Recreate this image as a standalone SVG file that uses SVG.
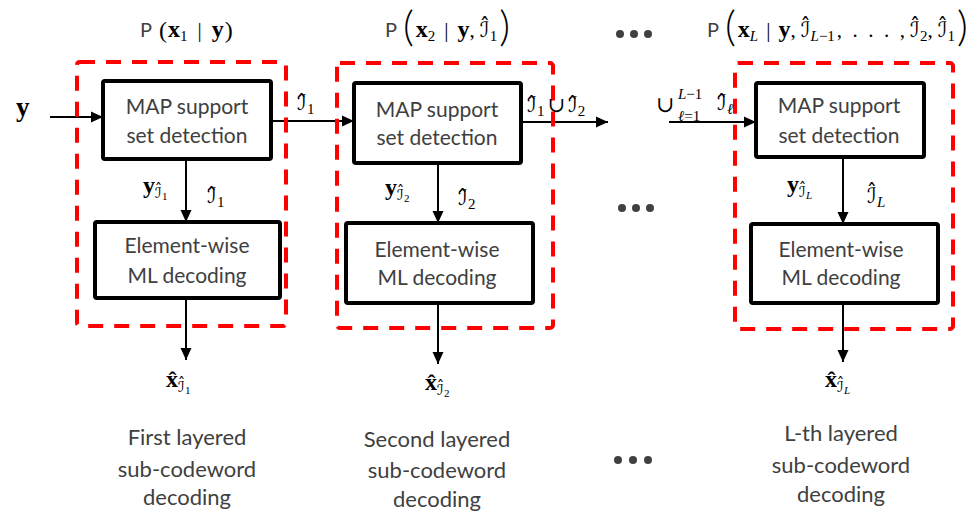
<svg xmlns="http://www.w3.org/2000/svg" width="974" height="512" viewBox="0 0 974 512">
<defs>
<marker id="ah" markerUnits="userSpaceOnUse" markerWidth="12" markerHeight="12" refX="12" refY="6" orient="auto">
<path d="M0,0.5 L12,6 L0,11.5 z" fill="#000"/>
</marker>
</defs>
<style>
.box{fill:#fff;stroke:#000;stroke-width:4}
.red{fill:none;stroke:#f00;stroke-width:4;stroke-dasharray:15 11}
.conn{stroke:#000;stroke-width:2;fill:none;marker-end:url(#ah)}
.lbl{font-family:"Lato","Open Sans",sans-serif;fill:#404040;font-size:21px;text-anchor:middle}
.big{font-size:22px}
.P{font-family:"Lato","Open Sans",sans-serif;fill:#404040;font-size:20px}
.m{font-family:"Liberation Serif","DejaVu Serif",serif;fill:#000}
.c{font-family:"DejaVu Sans",sans-serif}
.n{font-size:21px}
.s{font-size:15px}
.ss{font-size:11px}
.p{font-family:"Lato",sans-serif;font-weight:300;font-size:42px}
.q{font-size:24px}
.b{font-weight:bold}
.i{font-style:italic}
.dot{fill:#404040}
</style>
<rect width="974" height="512" fill="#fff"/>

<g id="titles">
<text class="m n" x="140" y="37"><tspan class="P">P</tspan><tspan class="q" dx="7" dy="1">(</tspan><tspan class="b q" dx="1" dy="-1">x</tspan><tspan class="s" dy="4">1</tspan><tspan dy="-4" dx="10">|</tspan><tspan class="b q" dx="10">y</tspan><tspan class="q" dx="1" dy="1">)</tspan></text>
<text class="m n" x="385" y="37"><tspan class="P">P</tspan><tspan class="p" dx="6" dy="4">(</tspan><tspan class="b q" dx="2" dy="-4">x</tspan><tspan class="s" dy="4">2</tspan><tspan dy="-4" dx="9">|</tspan><tspan class="b q" dx="9">y</tspan><tspan>,</tspan><tspan class="c" dx="5">ℐ̂</tspan><tspan class="s" dy="4">1</tspan><tspan class="p" dx="2">)</tspan></text>
<text class="m n" x="707" y="37"><tspan class="P">P</tspan><tspan class="p" dx="6" dy="4">(</tspan><tspan class="b q" dx="2" dy="-4">x</tspan><tspan class="s i" dy="4">L</tspan><tspan dy="-4" dx="8">|</tspan><tspan class="b q" dx="8">y</tspan><tspan>,</tspan><tspan class="c" dx="5">ℐ̂</tspan><tspan class="s" dy="4"><tspan class="i">L</tspan>−1</tspan><tspan dy="-4" dx="2">,&#160;&#160;.&#160;&#160;.&#160;&#160;.&#160;&#160;,</tspan><tspan class="c" dx="5">ℐ̂</tspan><tspan class="s" dy="4">2</tspan><tspan dy="-4">,</tspan><tspan class="c" dx="5">ℐ̂</tspan><tspan class="s" dy="4">1</tspan><tspan class="p" dx="2">)</tspan></text>
</g>

<g id="map1"><rect class="box" x="103" y="81" width="168" height="78" rx="2"/>
<text class="lbl" x="187" y="114">MAP support</text><text class="lbl" x="187" y="143">set detection</text></g>
<g id="ml1"><rect class="box" x="95" y="222" width="185" height="76" rx="2"/>
<text class="lbl" x="187" y="253">Element-wise</text><text class="lbl" x="187" y="283">ML decoding</text></g>

<g id="map2"><rect class="box" x="354" y="83" width="167" height="80" rx="2"/>
<text class="lbl" x="437" y="117">MAP support</text><text class="lbl" x="437" y="145">set detection</text></g>
<g id="ml2"><rect class="box" x="346" y="223" width="187" height="80" rx="2"/>
<text class="lbl" x="437" y="257">Element-wise</text><text class="lbl" x="437" y="285">ML decoding</text></g>

<g id="map3"><rect class="box" x="756" y="83" width="168" height="74" rx="2"/>
<text class="lbl" x="839" y="113">MAP support</text><text class="lbl" x="839" y="143">set detection</text></g>
<g id="ml3"><rect class="box" x="751" y="224" width="187" height="79" rx="2"/>
<text class="lbl" x="841" y="257">Element-wise</text><text class="lbl" x="841" y="285">ML decoding</text></g>

<g id="connectors">
<line class="conn" x1="50" y1="117" x2="103" y2="117"/>
<line class="conn" x1="271" y1="121" x2="354" y2="121"/>
<line class="conn" x1="521" y1="122" x2="608" y2="122"/>
<line class="conn" x1="669" y1="122" x2="756" y2="122"/>
<line class="conn" x1="186" y1="159" x2="186" y2="222"/>
<line class="conn" x1="186" y1="298" x2="186" y2="360"/>
<line class="conn" x1="438" y1="163" x2="438" y2="223"/>
<line class="conn" x1="438" y1="303" x2="438" y2="364"/>
<line class="conn" x1="843" y1="157" x2="843" y2="224"/>
<line class="conn" x1="843" y1="303" x2="843" y2="362"/>
</g>

<g id="frame1"><rect class="red" x="77" y="62" width="209" height="264" rx="3"/></g>
<g id="frame2"><rect class="red" x="337" y="63" width="216" height="265" rx="3"/></g>
<g id="frame3"><rect class="red" x="735" y="63" width="218" height="266" rx="3"/></g>

<g id="mathlabels">
<text class="m b" x="16" y="116" style="font-size:27px">y</text>
<text class="m n" x="297" y="110"><tspan class="c">ℐ̂</tspan><tspan class="s" dy="4">1</tspan></text>
<text class="m n" x="527" y="112"><tspan class="c">ℐ̂</tspan><tspan class="s" dy="4">1</tspan><tspan dy="-4" dx="3">∪</tspan><tspan class="c" dx="3">ℐ̂</tspan><tspan class="s" dy="4">2</tspan></text>
<text class="m" x="656" y="112" style="font-size:22px">∪</text>
<text class="m s" x="678" y="99"><tspan class="i">L</tspan>−1</text>
<text class="m s" x="678" y="121"><tspan class="i">ℓ</tspan>=1</text>
<text class="m n" x="717" y="110"><tspan class="c">ℐ̂</tspan><tspan class="s i" dy="4">ℓ</tspan></text>

<text class="m" x="143" y="193"><tspan class="b q">y</tspan><tspan class="c s" dy="5">ℐ̂</tspan><tspan class="ss" dy="2">1</tspan></text>
<text class="m n" x="207" y="203"><tspan class="c">ℐ̂</tspan><tspan class="s" dy="4">1</tspan></text>
<text class="m" x="385" y="195"><tspan class="b q">y</tspan><tspan class="c s" dy="5">ℐ̂</tspan><tspan class="ss" dy="2">2</tspan></text>
<text class="m n" x="458" y="205"><tspan class="c">ℐ̂</tspan><tspan class="s" dy="4">2</tspan></text>
<text class="m" x="787" y="192"><tspan class="b q">y</tspan><tspan class="c s" dy="5">ℐ̂</tspan><tspan class="ss i" dy="2">L</tspan></text>
<text class="m n" x="867" y="203"><tspan class="c">ℐ̂</tspan><tspan class="s i" dy="4">L</tspan></text>

<text class="m" x="166" y="387"><tspan class="b q">x̂</tspan><tspan class="c s" dy="5">ℐ̂</tspan><tspan class="ss" dy="2">1</tspan></text>
<text class="m" x="425" y="390"><tspan class="b q">x̂</tspan><tspan class="c s" dy="5">ℐ̂</tspan><tspan class="ss" dy="2">2</tspan></text>
<text class="m" x="825" y="387"><tspan class="b q">x̂</tspan><tspan class="c s" dy="5">ℐ̂</tspan><tspan class="ss i" dy="2">L</tspan></text>
</g>

<g id="captions">
<text class="lbl big" x="187" y="445">First layered</text>
<text class="lbl big" x="187" y="477">sub-codeword</text>
<text class="lbl big" x="187" y="505">decoding</text>
<text class="lbl big" x="437" y="447">Second layered</text>
<text class="lbl big" x="437" y="478">sub-codeword</text>
<text class="lbl big" x="437" y="507">decoding</text>
<text class="lbl big" x="841" y="441">L-th layered</text>
<text class="lbl big" x="841" y="473">sub-codeword</text>
<text class="lbl big" x="841" y="502">decoding</text>
</g>

<g id="dots">
<circle class="dot" cx="620" cy="34" r="4"/><circle class="dot" cx="634" cy="34" r="4"/><circle class="dot" cx="648" cy="34" r="4"/>
<circle class="dot" cx="622" cy="208" r="4"/><circle class="dot" cx="636" cy="208" r="4"/><circle class="dot" cx="650" cy="208" r="4"/>
<circle class="dot" cx="618" cy="460" r="4"/><circle class="dot" cx="633" cy="460" r="4"/><circle class="dot" cx="648" cy="460" r="4"/>
</g>
</svg>
